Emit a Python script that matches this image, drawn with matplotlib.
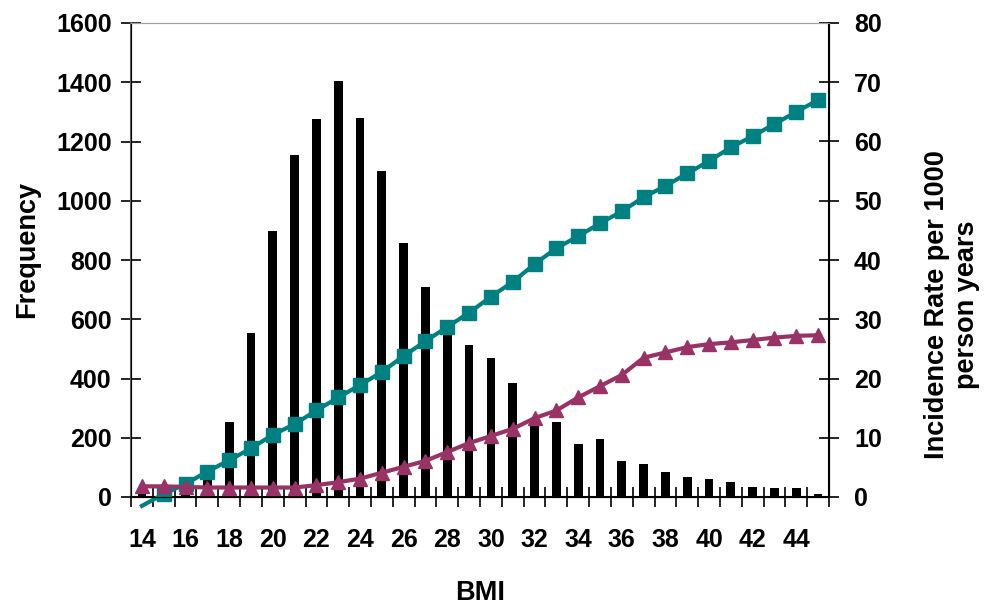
import numpy as np
import matplotlib.pyplot as plt
from matplotlib.ticker import FixedLocator, NullFormatter

plt.rcParams['font.family'] = ['Liberation Sans', 'DejaVu Sans']
plt.rcParams['font.weight'] = 'bold'

# data
bmi = np.arange(14, 46)
frequency = [30, 15, 25, 60, 254, 553, 897, 1155, 1275, 1403, 1278, 1101,
             857, 710, 560, 512, 468, 384, 255, 254, 178, 195, 122, 110,
             85, 69, 61, 50, 33, 29, 29, 9]
rate_teal = [-1.5, 0.5, 2.2, 4.3, 6.2, 8.2, 10.5, 12.3, 14.6, 16.8, 18.9,
             21.1, 23.8, 26.3, 28.7, 31.1, 33.8, 36.3, 39.3, 42.0, 44.0,
             46.2, 48.2, 50.6, 52.5, 54.6, 56.7, 59.0, 60.9, 62.95, 65.0, 67.0]
rate_purple = [1.8, 1.8, 1.7, 1.6, 1.6, 1.6, 1.6, 1.6, 2.0, 2.5, 3.1, 4.1,
               5.1, 6.1, 7.6, 9.1, 10.3, 11.5, 13.3, 14.6, 16.8, 18.7, 20.6,
               23.5, 24.4, 25.3, 25.8, 26.1, 26.5, 26.9, 27.2, 27.3]
xlabels = [str(v) for v in range(14, 45, 2)]

teal = '#008080'
purple = '#993366'
fs = 18
fs_lab = 19.5

fig = plt.figure(figsize=(9.86, 6.08), dpi=100)
ax = fig.add_axes([131/986, 111/608, 698/986, 474/608])
ax.bar(bmi, frequency, width=0.4, color='black')
ax.set_xlim(13.5, 45.5)
ax.set_ylim(0, 1600)
ax.set_yticks(np.arange(0, 1601, 200))

# category boundaries as ticks, labels on every other category
ax.xaxis.set_major_locator(FixedLocator(np.arange(13.5, 46, 1)))
ax.xaxis.set_major_formatter(NullFormatter())
ax.xaxis.set_minor_locator(FixedLocator(np.arange(14, 45, 2)))
ax.set_xticklabels(xlabels, minor=True)
ax.tick_params(axis='x', which='major', direction='inout', length=14, width=1.2, colors='black')
ax.tick_params(axis='x', which='minor', length=0, pad=22, labelsize=fs)
ax.tick_params(axis='y', direction='inout', length=14, width=1.2, pad=7, labelsize=fs)

ax.spines['top'].set_color('#a0a0a0')
ax.spines['left'].set_color('#606060')
ax.spines['left'].set_linewidth(1.5)
ax.spines['bottom'].set_linewidth(1.5)

ax2 = ax.twinx()
ax2.set_ylim(0, 80)
ax2.set_yticks(np.arange(0, 81, 10))
ax2.plot(bmi, rate_teal, color=teal, lw=3, marker='s', ms=9.5,
         markevery=list(range(1, len(bmi))), clip_on=False)
ax2.plot(bmi, rate_purple, color=purple, lw=3, marker='^', ms=9.5, clip_on=False)
ax2.tick_params(axis='y', direction='inout', length=14, width=1.2, pad=11, labelsize=fs)
ax2.spines['right'].set_linewidth(1.5)
ax2.spines['top'].set_color('#a0a0a0')

# axis titles
fig.text(27/986, 1 - 249/608, 'Frequency', rotation=90, ha='center', va='center',
         fontsize=fs_lab, fontweight='bold')
fig.text(952/986, 1 - 305/608, 'Incidence Rate per 1000\nperson years', rotation=90,
         ha='center', va='center', multialignment='center', linespacing=1.15,
         fontsize=fs_lab, fontweight='bold')
fig.text(480/986, 1 - 593/608, 'BMI', ha='center', va='center',
         fontsize=fs_lab, fontweight='bold')

fig.savefig('out.png', dpi=100)
